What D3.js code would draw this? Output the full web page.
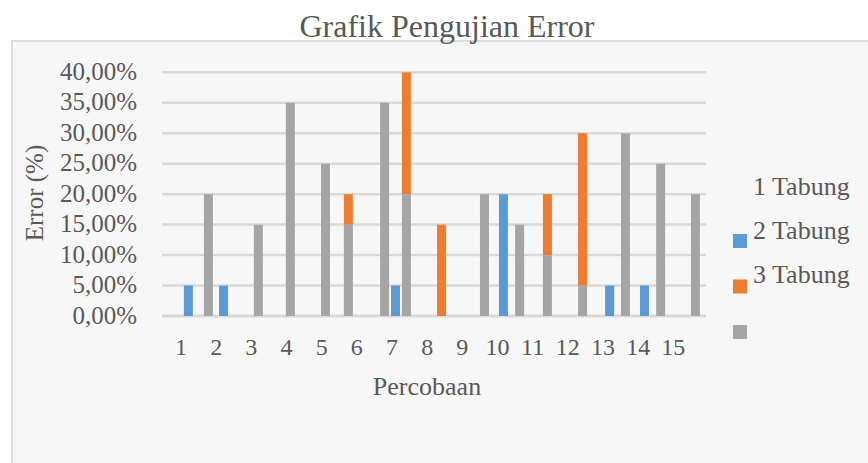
<!DOCTYPE html>
<html>
<head>
<meta charset="utf-8">
<script src="https://cdn.jsdelivr.net/npm/d3@7"></script>
<style>
  body { margin: 0; background: #fff; }
  text { font-family: "Liberation Serif", "Times New Roman", serif; fill: #595959; }
</style>
</head>
<body>
<svg width="868" height="463"></svg>
<script>
// Data (positions along the category axis, values in %)
const categories = d3.range(1, 16);
const barPos = [1.21, 1.78, 2.21, 3.20, 4.11, 5.11, 5.76, 6.79, 7.10, 7.41, 8.41,
  9.63, 10.17, 10.63, 11.42, 12.42, 13.19, 13.64, 14.18, 14.64, 15.63];
const blueVals = [5, 0, 5, 0, 0, 0, 0, 0, 5, 0, 0, 0, 20, 0, 0, 0, 5, 0, 5, 0, 0];
const grayVals = [0, 20, 0, 15, 35, 25, 15, 35, 0, 20, 0, 20, 0, 15, 10, 5, 0, 30, 0, 25, 20];
const orangeVals = [0, 0, 0, 0, 0, 0, 5, 0, 0, 20, 15, 0, 0, 0, 10, 25, 0, 0, 0, 0, 0];
const yTicks = [0, 5, 10, 15, 20, 25, 30, 35, 40];
const legendLabels = ["1 Tabung", "2 Tabung", "3 Tabung", ""];
const legendColors = [null, "#5b9bd5", "#ed7d31", "#a5a5a5"];

const colors = { blue: "#5b9bd5", gray: "#a5a5a5", orange: "#ed7d31" };

const svg = d3.select("svg");

// chart frame
svg.append("rect")
  .attr("x", 12).attr("y", 41)
  .attr("width", 880).attr("height", 440)
  .attr("fill", "#f7f7f7")
  .attr("stroke", "#dddddd")
  .attr("stroke-width", 2);

const x = d3.scaleLinear().domain([0.46, 15.93]).range([162, 706]);
const y = d3.scaleLinear().domain([0, 40]).range([316, 72.3]);

const fmt = d3.formatLocale({ decimal: ",", thousands: ".", grouping: [3], currency: ["", ""] }).format(".2%");

// gridlines
svg.append("g")
  .selectAll("line")
  .data(yTicks)
  .enter()
  .append("line")
  .attr("x1", x(0.46))
  .attr("x2", x(15.93))
  .attr("y1", (d) => y(d))
  .attr("y2", (d) => y(d))
  .attr("stroke", "#d9d9d9")
  .attr("stroke-width", (d) => (d === 0 ? 3 : 2.5));

// y tick labels
svg.append("g")
  .selectAll("text")
  .data(yTicks)
  .enter()
  .append("text")
  .attr("x", 137)
  .attr("y", (d) => y(d))
  .attr("dy", "0.3em")
  .attr("text-anchor", "end")
  .attr("font-size", 25)
  .text((d) => fmt(d / 100));

// stacked bars
const rows = barPos.map((p, i) => ({
  pos: p,
  blue: blueVals[i],
  gray: grayVals[i],
  orange: orangeVals[i],
}));
const stack = d3.stack().keys(["blue", "gray", "orange"])(rows);
const barW = 9;

svg.append("g")
  .selectAll("g")
  .data(stack)
  .enter()
  .append("g")
  .attr("fill", (s) => colors[s.key])
  .selectAll("rect")
  .data((s) => s.filter((d) => d[1] > d[0]))
  .enter()
  .append("rect")
  .attr("x", (d) => x(d.data.pos) - barW / 2)
  .attr("width", barW)
  .attr("y", (d) => y(d[1]))
  .attr("height", (d) => y(d[0]) - y(d[1]));

// x tick labels
svg.append("g")
  .selectAll("text")
  .data(categories)
  .enter()
  .append("text")
  .attr("x", (d) => x(d))
  .attr("y", 355)
  .attr("text-anchor", "middle")
  .attr("font-size", 24)
  .text((d) => d);

// title and axis titles
svg.append("text")
  .attr("x", 447).attr("y", 37)
  .attr("text-anchor", "middle")
  .attr("font-size", 32)
  .text("Grafik Pengujian Error");

svg.append("text")
  .attr("x", 427).attr("y", 395)
  .attr("text-anchor", "middle")
  .attr("font-size", 26)
  .text("Percobaan");

svg.append("text")
  .attr("transform", "translate(43,193) rotate(-90)")
  .attr("text-anchor", "middle")
  .attr("font-size", 25)
  .text("Error (%)");

// legend (labels sit one row above their swatches, as in the picture)
const legend = svg.append("g");
legend.selectAll("text")
  .data(legendLabels)
  .enter()
  .append("text")
  .attr("x", 753)
  .attr("y", (d, i) => 195 + i * 44)
  .attr("font-size", 26)
  .text((d) => d);

legend.selectAll("rect")
  .data(legendColors.filter((c) => c))
  .enter()
  .append("rect")
  .attr("x", 733)
  .attr("y", (d, i) => 234 + i * 45.5)
  .attr("width", 14)
  .attr("height", 14)
  .attr("fill", (d) => d);
</script>
</body>
</html>
